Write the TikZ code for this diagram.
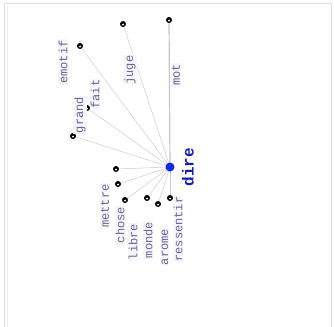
\documentclass[tikz,border=0pt]{standalone}
\usepackage{fontspec}
\setmonofont{Liberation Mono}
\usepackage{xcolor}
\usetikzlibrary{backgrounds}
\definecolor{lbl}{RGB}{100,100,160}
\definecolor{edge}{RGB}{205,205,205}
\definecolor{hub}{RGB}{20,40,220}

\begin{document}
\begin{tikzpicture}[x=1pt,y=-1pt,
	dot/.style={circle,fill=black,inner sep=0pt,minimum size=6pt,
		path picture={\fill[white] (path picture bounding box.center) ++(0,-0.6pt) circle (1.1pt);}},
	word/.style={rotate=90,text=lbl,font=\ttfamily\fontsize{12}{12}\selectfont,fill=gray!6,inner sep=1pt},
	link/.style={draw=edge,line width=0.5pt}]
	\useasboundingbox (0,0) rectangle (334,326);
	% frame
	\draw[gray!25,line width=0.8pt] (4,330) -- (4,3) -- (331,3) -- (331,330);
	\draw[gray!12,line width=0.8pt] (7,330) -- (7,6);
	
	\node [circle,fill=hub,inner sep=0pt,minimum size=9pt] (dire) at (170,167) {};
	\node [rotate=90,text=hub!80!black,font=\ttfamily\bfseries\fontsize{16}{16}\selectfont,fill=yellow!6,inner sep=1pt] (direlbl) at (188,167) {dire};
	
	\node [dot] (mot) at (169,20) {};
	\node [dot] (juge) at (123,24) {};
	\node [dot] (emotif) at (80,46) {};
	\node [dot] (fait) at (87,108) {};
	\node [dot] (grand) at (73,136) {};
	\node [dot] (mettre) at (116,169) {};
	\node [dot] (chose) at (118,184) {};
	\node [dot] (libre) at (125,200) {};
	\node [dot] (monde) at (147,198) {};
	\node [dot] (arome) at (158,204) {};
	\node [dot] (ressentir) at (170,198) {};
	
	\node [word] (motlbl) at (176,75) {mot};
	\node [word] (jugelbl) at (130,70) {juge};
	\node [word] (emotiflbl) at (63,62) {emotif};
	\node [word] (faitlbl) at (95,94) {fait};
	\node [word] (grandlbl) at (80,115) {grand};
	\node [word] (mettrelbl) at (105,206) {mettre};
	\node [word] (choselbl) at (120,225) {chose};
	\node [word] (librelbl) at (133,242) {libre};
	\node [word] (mondelbl) at (148,240) {monde};
	\node [word] (aromelbl) at (165,247) {arome};
	\node [word] (ressentirlbl) at (178,229) {ressentir};
	
	\begin{pgfonlayer}{background}
	\foreach \w in {juge,emotif,fait,grand,mettre,chose,libre,monde,arome,ressentir}
		\path [link] (dire.center) -- (\w.center);
	\path [draw=gray!45,line width=1.2pt] (dire.center) -- (mot.center);
	\end{pgfonlayer}
\end{tikzpicture}
\end{document}
